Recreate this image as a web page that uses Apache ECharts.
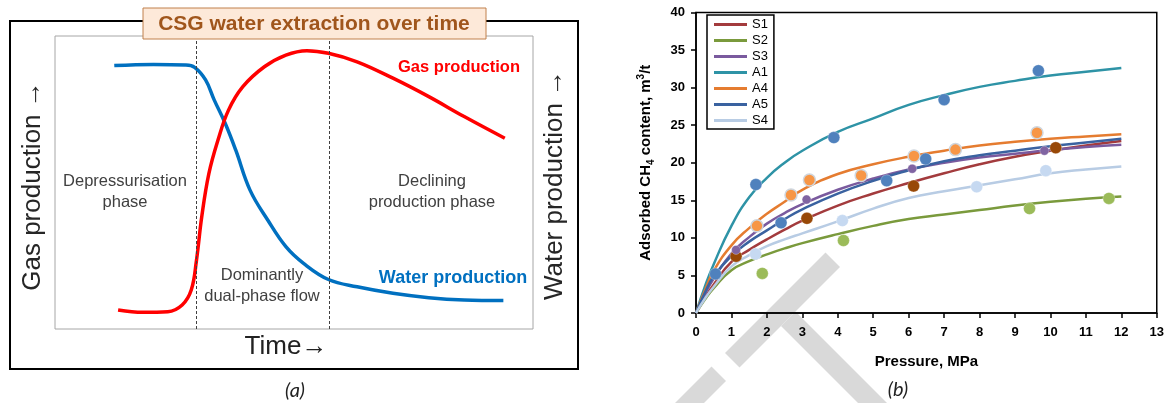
<!DOCTYPE html>
<html>
<head>
<meta charset="utf-8">
<script src="https://cdn.jsdelivr.net/npm/echarts/dist/echarts.min.js"></script>
<style>
  html, body { margin: 0; padding: 0; background: #fff; }
  #main { width: 1167px; height: 403px; }
</style>
</head>
<body>
<div id="main"></div>
<script>
// panel (a): schematic production curves, time and level on 0..100 scale
const waterTime  = [12.4, 20.6, 27.3, 29.2, 31.5, 33.3, 35.6, 37.8, 40.8, 44.5, 48.3, 52.0, 57.2, 63.2, 70.7, 78.2, 85.6, 93.8];
const waterLevel = [89.9, 90.3, 90.1, 89.3, 85.0, 78.2, 70.2, 61.1, 47.4, 37.2, 28.1, 22.4, 16.9, 14.4, 12.2, 10.7, 9.9, 9.7];
const gasTime  = [13.2, 18.4, 23.6, 26.6, 28.5, 29.6, 30.7, 32.2, 34.1, 36.3, 39.3, 43.8, 48.3, 52.7, 57.2, 63.2, 70.7, 78.2, 85.6, 94.1];
const gasLevel = [6.5, 5.7, 5.9, 8.2, 13.3, 23.5, 38.3, 53.1, 64.5, 74.7, 82.7, 89.5, 93.5, 95.0, 94.1, 91.2, 85.6, 79.3, 72.5, 65.1];
const phaseBounds = [29.5, 57.3];

// panel (b): fitted isotherms read at these pressures
const pressureGrid = [0, 0.25, 0.5, 1, 1.5, 2, 2.5, 3, 4, 5, 6, 7, 8, 9, 10, 11, 12];
const names = ['S1', 'S2', 'S3', 'A1', 'A4', 'A5', 'S4'];
const fitS1 = [0, 2.0, 3.8, 6.8, 8.4, 9.8, 11.1, 12.3, 14.3, 15.9, 17.3, 18.6, 19.8, 20.8, 21.6, 22.3, 22.9];
const fitS2 = [0, 1.8, 3.3, 5.7, 6.9, 7.8, 8.6, 9.3, 10.5, 11.6, 12.5, 13.1, 13.7, 14.3, 14.8, 15.2, 15.5];
const fitS3 = [0, 2.5, 4.6, 7.9, 10.1, 11.9, 13.3, 14.5, 16.4, 17.9, 19.1, 20.0, 20.7, 21.2, 21.7, 22.1, 22.4];
const fitA1 = [0, 3.5, 6.5, 11.6, 15.4, 18.0, 20.0, 21.6, 24.1, 25.9, 27.7, 29.0, 30.1, 30.9, 31.6, 32.1, 32.6];
const fitA4 = [0, 3.0, 5.6, 9.0, 11.3, 13.2, 14.8, 16.4, 18.5, 19.8, 20.8, 21.6, 22.3, 22.8, 23.2, 23.5, 23.8];
const fitA5 = [0, 2.7, 4.9, 7.6, 9.5, 11.0, 12.5, 13.8, 15.9, 17.6, 19.0, 20.2, 21.0, 21.6, 22.2, 22.7, 23.2];
const fitS4 = [0, 1.9, 3.5, 6.2, 7.7, 8.9, 9.8, 10.6, 12.2, 13.9, 15.3, 16.2, 17.0, 17.8, 18.6, 19.1, 19.5];

// measured points [pressure, content]
const ptsS1 = [[1.13, 7.55], [3.13, 12.6], [6.14, 16.9], [10.15, 22.0]];
const ptsS2 = [[1.87, 5.27], [4.16, 9.65], [9.41, 13.9], [11.65, 15.25]];
const ptsS3 = [[1.13, 8.4], [3.12, 15.1], [6.1, 19.2], [9.83, 21.6]];
const ptsA1 = [[1.69, 17.1], [3.89, 23.35], [7.0, 28.4], [9.66, 32.25]];
const ptsA4 = [[1.72, 11.6], [2.68, 15.7], [3.2, 17.7], [4.66, 18.3], [6.15, 20.9], [7.32, 21.75], [9.62, 24.0]];
const ptsA5 = [[0.55, 5.2], [2.4, 12.0], [5.38, 17.6], [6.48, 20.5]];
const ptsS4 = [[1.68, 7.85], [4.13, 12.3], [7.92, 16.8], [9.87, 18.95]];

const fits = [fitS1, fitS2, fitS3, fitA1, fitA4, fitA5, fitS4];
const pts = [ptsS1, ptsS2, ptsS3, ptsA1, ptsA4, ptsA5, ptsS4];
const lineColors = ['#a33b3d', '#7a9a3c', '#7a5a9e', '#2e93a6', '#e57c30', '#3a62a0', '#b8cce4'];
const dotColors = ['#984807', '#9bbb59', '#8064a2', '#4f81bd', '#f79646', '#4f81bd', '#c6d9f1'];
const dotSizes = [12, 12, 9, 12, 12, 12, 12];

const font = "'Liberation Sans', Arial, sans-serif";
const pair = (xs, ys) => xs.map((x, i) => [x, ys[i]]);

const chart = echarts.init(document.getElementById('main'));

const series = [
    {
        name: 'Water production', type: 'line', xAxisIndex: 0, yAxisIndex: 0,
        data: pair(waterTime, waterLevel), smooth: 0.4, showSymbol: false, silent: true,
        lineStyle: {color: '#0070c0', width: 3.5}, z: 3,
        markLine: {
            silent: true, symbol: 'none', label: {show: false},
            lineStyle: {color: '#404040', width: 1, type: [3, 2]},
            data: phaseBounds.map(v => ({xAxis: v}))
        }
    },
    {
        name: 'Gas production', type: 'line', xAxisIndex: 0, yAxisIndex: 0,
        data: pair(gasTime, gasLevel), smooth: 0.4, showSymbol: false, silent: true,
        lineStyle: {color: '#ff0000', width: 3.5}, z: 4
    }
];

names.forEach((n, i) => {
    series.push({
        name: n, type: 'line', xAxisIndex: 1, yAxisIndex: 1,
        data: pair(pressureGrid, fits[i]), smooth: 0.5,
        symbol: 'none', color: lineColors[i],
        lineStyle: {color: lineColors[i], width: 2.5}
    });
});
names.forEach((n, i) => {
    series.push({
        name: n + ' data', type: 'scatter', xAxisIndex: 1, yAxisIndex: 1,
        data: pts[i], symbolSize: dotSizes[i], z: 5,
        itemStyle: {color: dotColors[i], borderColor: i === 4 ? '#cfd6de' : 'rgba(255,255,255,0.3)', borderWidth: i === 4 ? 1.5 : 1, opacity: 1}
    });
});

// watermark pieces behind everything
const wm = {fill: '#d9d9d9'};
const graphics = [
    {type: 'polygon', z: -1, shape: {points: [[825.5, 252.5], [840, 267], [739.5, 367.5], [725, 353]]}, style: wm},
    {type: 'polygon', z: -1, shape: {points: [[711.5, 366.5], [726, 381], [687, 420], [658, 420]]}, style: wm},
    {type: 'polygon', z: -1, shape: {points: [[795.5, 311.5], [904, 420], [875, 420], [781, 326]]}, style: wm},
    // panel (a) frame and title
    {type: 'rect', z: 1, shape: {x: 10, y: 21, width: 568, height: 348}, style: {fill: 'none', stroke: '#000', lineWidth: 2}},
    {type: 'rect', z: 10, shape: {x: 143, y: 8, width: 343, height: 31}, style: {fill: '#fde9d9', stroke: '#c0804d', lineWidth: 1}},
    {type: 'text', z: 11, x: 314, y: 24, style: {text: 'CSG water extraction over time', font: 'bold 21px ' + font, fill: '#a0561c', align: 'center', verticalAlign: 'middle'}},
    {type: 'text', z: 11, x: 459, y: 67, style: {text: 'Gas production', font: 'bold 16.5px ' + font, fill: '#ff0000', align: 'center', verticalAlign: 'middle'}},
    {type: 'text', z: 11, x: 453, y: 278, style: {text: 'Water production', font: 'bold 18px ' + font, fill: '#0070c0', align: 'center', verticalAlign: 'middle'}},
    {type: 'text', z: 11, x: 125, y: 192, style: {text: 'Depressurisation\nphase', font: '16.5px ' + font, lineHeight: 21, fill: '#404040', align: 'center', verticalAlign: 'middle'}},
    {type: 'text', z: 11, x: 262, y: 286, style: {text: 'Dominantly\ndual-phase flow', font: '16.5px ' + font, lineHeight: 21, fill: '#404040', align: 'center', verticalAlign: 'middle'}},
    {type: 'text', z: 11, x: 432, y: 192, style: {text: 'Declining\nproduction phase', font: '16.5px ' + font, lineHeight: 21, fill: '#404040', align: 'center', verticalAlign: 'middle'}},
    {type: 'text', z: 11, x: 286, y: 347, style: {text: 'Time→', font: '26px ' + font, fill: '#222', align: 'center', verticalAlign: 'middle'}},
    {type: 'text', z: 11, x: 33, y: 186, rotation: Math.PI / 2, style: {text: 'Gas production →', font: '26px ' + font, fill: '#262626', align: 'center', verticalAlign: 'middle'}},
    {type: 'text', z: 11, x: 555, y: 185, rotation: Math.PI / 2, style: {text: 'Water production →', font: '26px ' + font, fill: '#262626', align: 'center', verticalAlign: 'middle'}},
    {type: 'text', z: 11, x: 295, y: 391, style: {text: '(a)', font: 'italic 20px Lato, ' + font, fill: '#222', align: 'center', verticalAlign: 'middle'}},
    {type: 'text', z: 11, x: 898, y: 390, style: {text: '(b)', font: 'italic 20px Lato, ' + font, fill: '#222', align: 'center', verticalAlign: 'middle'}}
];

const axisBase = {
    axisLine: {lineStyle: {color: '#000', width: 1.5}},
    axisTick: {length: 5, lineStyle: {color: '#000', width: 1.5}},
    axisLabel: {color: '#000', fontWeight: 'bold', fontSize: 13, fontFamily: font},
    splitLine: {show: false}
};

chart.setOption({
    backgroundColor: '#fff',
    animation: false,
    grid: [
        {left: 55, top: 36, width: 478, height: 293, show: true, borderColor: '#a6a6a6', borderWidth: 1, backgroundColor: '#fff'},
        {left: 696, top: 12.5, width: 464, height: 300.5, show: true, borderColor: '#000', borderWidth: 1.5}
    ],
    xAxis: [
        {gridIndex: 0, type: 'value', min: 0, max: 100, show: false},
        Object.assign({}, axisBase, {
            gridIndex: 1, type: 'value', min: 0, max: 13, interval: 1,
            axisLabel: Object.assign({}, axisBase.axisLabel, {margin: 13}),
            name: 'Pressure, MPa', nameLocation: 'middle', nameGap: 41,
            nameTextStyle: {color: '#000', fontWeight: 'bold', fontSize: 15, fontFamily: font}
        })
    ],
    yAxis: [
        {gridIndex: 0, type: 'value', min: 0, max: 100, show: false},
        Object.assign({}, axisBase, {
            gridIndex: 1, type: 'value', min: 0, max: 40, interval: 5,
            axisLabel: Object.assign({}, axisBase.axisLabel, {margin: 11}),
            name: 'Adsorbed CH{sub|4} content, m{sup|3}/t', nameLocation: 'middle', nameGap: 40,
            nameTextStyle: {
                color: '#000', fontWeight: 'bold', fontSize: 15, fontFamily: font, lineHeight: 20,
                rich: {
                    sub: {fontSize: 10, fontWeight: 'bold', fontFamily: font, color: '#000', verticalAlign: 'bottom', lineHeight: 10},
                    sup: {fontSize: 10, fontWeight: 'bold', fontFamily: font, color: '#000', verticalAlign: 'top', lineHeight: 10}
                }
            }
        })
    ],
    legend: {
        data: names, orient: 'vertical', left: 707, top: 15,
        icon: 'rect', itemWidth: 33, itemHeight: 3, itemGap: 3,
        padding: [3, 6, 2, 7], borderColor: '#000', borderWidth: 1.5, backgroundColor: '#fff',
        textStyle: {color: '#000', fontSize: 13, lineHeight: 13, fontFamily: font},
        selectedMode: false
    },
    graphic: graphics,
    series: series
});
</script>
</body>
</html>
